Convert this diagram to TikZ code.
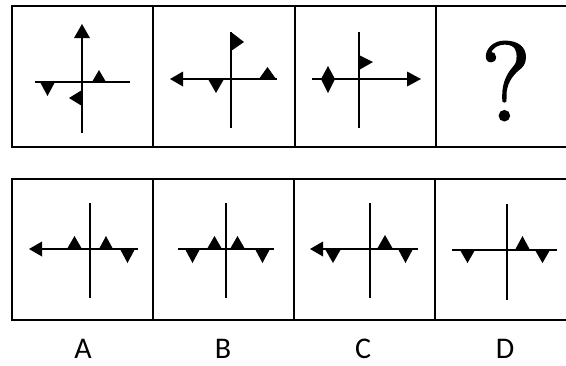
\documentclass[tikz,border=0pt]{standalone}
\usepackage{fontspec}
\newfontfamily\labfont{Carlito}
\newfontfamily\qfont[FakeBold=2]{Latin Modern Roman}
\begin{document}
\begin{tikzpicture}[x=1pt,y=-1pt,
  frame/.style={line width=2.5pt,line join=miter},
  axis/.style={line width=2pt},
  blk/.style={fill=black},
  lab/.style={font=\labfont\fontsize{30}{30}\selectfont,inner sep=0pt,anchor=base}]
\useasboundingbox (0,0) rectangle (566,365);
% frames
\draw[frame] (600,6) -- (12,6) -- (12,147) -- (600,147);
\foreach \x in {153,295,436} \draw[frame] (\x,6) -- (\x,147);
\draw[frame] (600,179) -- (12,179) -- (12,320) -- (600,320);
\foreach \x in {153,294,435} \draw[frame] (\x,179) -- (\x,320);
% ---- top cell 1
\draw[axis] (82,36) -- (82,133);
\draw[axis] (35,82) -- (130,82);
\fill[blk] (82,24) -- (90,38) -- (74,38) -- cycle;
\fill[blk] (92,82) -- (106,82) -- (99,70) -- cycle;
\fill[blk] (40,82) -- (55,82) -- (47.5,96) -- cycle;
\fill[blk] (82,90) -- (82,106) -- (69,98) -- cycle;
% ---- top cell 2
\draw[axis] (231,32) -- (231,128);
\draw[axis] (181,79) -- (277,79);
\fill[blk] (170,79) -- (183,71.5) -- (183,86.5) -- cycle;
\fill[blk] (231,32) -- (231,51) -- (244,42) -- cycle;
\fill[blk] (208,79) -- (224,79) -- (216,93) -- cycle;
\fill[blk] (259,79) -- (276,79) -- (267.5,67) -- cycle;
% ---- top cell 3
\draw[axis] (359,32) -- (359,128);
\draw[axis] (312,79) -- (409,79);
\fill[blk] (421,79) -- (407,71.5) -- (407,86.5) -- cycle;
\fill[blk] (359,55) -- (359,70) -- (373,62) -- cycle;
\fill[blk] (328,66) -- (335,79) -- (328,93) -- (321,79) -- cycle;
% ---- top cell 4
\node[font=\qfont\fontsize{112}{112}\selectfont,inner sep=0pt] (q) at (506,81) {?};
% ---- bottom A
\draw[axis] (90,203) -- (90,298);
\draw[axis] (40,249) -- (138,249);
\fill[blk] (29,249) -- (42,241.5) -- (42,256.5) -- cycle;
\fill[blk] (67,249) -- (82,249) -- (74.5,236) -- cycle;
\fill[blk] (99,249) -- (113,249) -- (106,236) -- cycle;
\fill[blk] (120,249) -- (135,249) -- (127.5,263) -- cycle;
% ---- bottom B
\draw[axis] (226,203) -- (226,298);
\draw[axis] (178,249) -- (274,249);
\fill[blk] (185,249) -- (200,249) -- (192.5,263) -- cycle;
\fill[blk] (207,249) -- (222,249) -- (214.5,236) -- cycle;
\fill[blk] (230,249) -- (245,249) -- (237.5,236) -- cycle;
\fill[blk] (255,249) -- (270,249) -- (262.5,263) -- cycle;
% ---- bottom C
\draw[axis] (370,203) -- (370,298);
\draw[axis] (321,249) -- (418,249);
\fill[blk] (310,249) -- (323,241.5) -- (323,256.5) -- cycle;
\fill[blk] (325,249) -- (341,249) -- (333,263) -- cycle;
\fill[blk] (377,249) -- (393,249) -- (385,235) -- cycle;
\fill[blk] (398,249) -- (413,249) -- (405.5,263) -- cycle;
% ---- bottom D
\draw[axis] (507,204) -- (507,300);
\draw[axis] (452,250) -- (557,250);
\fill[blk] (460,250) -- (475,250) -- (467.5,263) -- cycle;
\fill[blk] (515,250) -- (530,250) -- (522.5,236) -- cycle;
\fill[blk] (535,250) -- (550,250) -- (542.5,263) -- cycle;
% labels
\node[lab] (la) at (83,358) {A};
\node[lab] (lb) at (223,358) {B};
\node[lab] (lc) at (363,358) {C};
\node[lab] (ld) at (505,358) {D};
\end{tikzpicture}
\end{document}
